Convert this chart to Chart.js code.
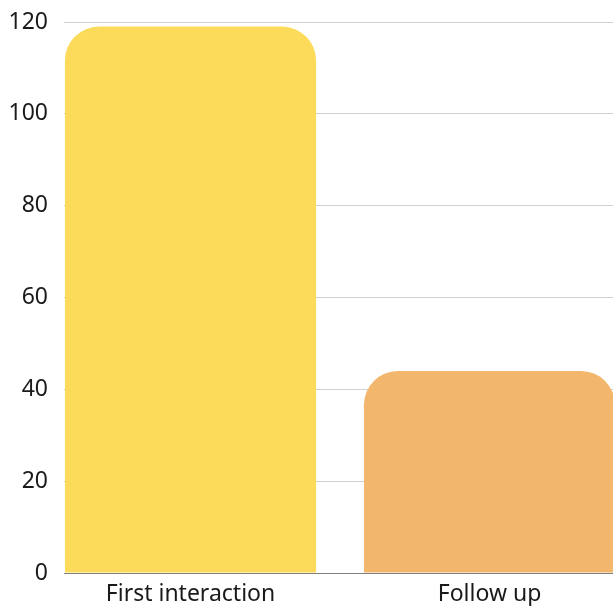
<!DOCTYPE html>
<html><head><meta charset="utf-8">
<script src="https://cdn.jsdelivr.net/npm/chart.js@4"></script>
<style>html,body{margin:0;padding:0;background:#fff;overflow:hidden}#wrap{width:613px;height:606px}</style>
</head><body><div id="wrap"><canvas id="c"></canvas></div>
<script>
const categories = ["First interaction", "Follow up"];
const values = [119, 44];
const barColors = ["#FDDB5A", "#F2B76C"];
const yTicks = [0, 20, 40, 60, 80, 100, 120];

// The category band extends slightly beyond the grid on both sides (as in the reference)
const bandPlugin = {
  id: 'band',
  afterLayout(chart) {
    const x = chart.scales.x;
    const start = 41, end = 639;
    x._startPixel = start; x._endPixel = end; x._length = end - start;
  }
};

new Chart(document.getElementById('c'), {
  type: 'bar',
  data: { labels: categories, datasets: [{ data: values, backgroundColor: barColors,
    borderRadius: {topLeft: 34, topRight: 34, bottomLeft: 0, bottomRight: 0}, borderSkipped: 'bottom',
    barPercentage: 0.84, categoryPercentage: 1 }] },
  plugins: [bandPlugin],
  options: {
    responsive: true, maintainAspectRatio: false, animation: false,
    layout: { padding: { top: 22, right: 0, left: 10, bottom: 0 } },
    plugins: { legend: { display: false }, tooltip: { enabled: false } },
    scales: {
      x: { grid: { display: false, drawTicks: false }, border: { display: true, color: '#808080', width: 1 },
        afterFit: s => { s.height = 33; s.paddingLeft = 0; s.paddingRight = 0; },
        ticks: { color: '#1a1a1a', padding: 10, maxRotation: 0, font: { family: 'Noto Sans', size: 23, lineHeight: 1 } } },
      y: { min: 0, max: 120, afterBuildTicks: s => { s.ticks = yTicks.map(v => ({value: v})); },
        afterFit: s => { s.width = 54; s.paddingTop = 0; s.paddingBottom = 0; },
        grid: { color: '#cfcfcf', drawTicks: false }, border: { display: false },
        ticks: { color: '#1a1a1a', padding: 16, font: { family: 'Noto Sans', size: 23 } } }
    }
  }
});
</script></body></html>
